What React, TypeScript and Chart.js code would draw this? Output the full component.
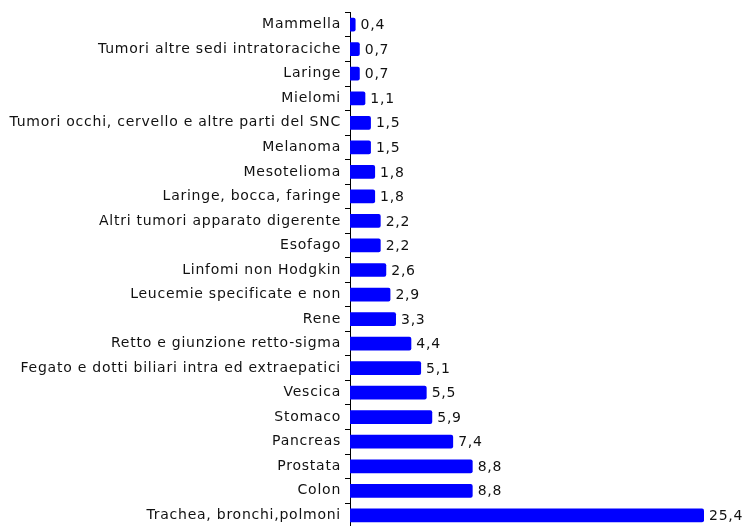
import React, { useEffect, useRef } from "react";
import { Chart, registerables } from "chart.js";

Chart.register(...registerables);

const categories = [
  "Mammella",
  "Tumori altre sedi intratoraciche",
  "Laringe",
  "Mielomi",
  "Tumori occhi, cervello e altre parti del SNC",
  "Melanoma",
  "Mesotelioma",
  "Laringe, bocca, faringe",
  "Altri tumori apparato digerente",
  "Esofago",
  "Linfomi non Hodgkin",
  "Leucemie specificate e non",
  "Rene",
  "Retto e giunzione retto-sigma",
  "Fegato e dotti biliari intra ed extraepatici",
  "Vescica",
  "Stomaco",
  "Pancreas",
  "Prostata",
  "Colon",
  "Trachea, bronchi,polmoni",
];

const values = [
  0.4, 0.7, 0.7, 1.1, 1.5, 1.5, 1.8, 1.8, 2.2, 2.2, 2.6, 2.9, 3.3, 4.4, 5.1,
  5.5, 5.9, 7.4, 8.8, 8.8, 25.4,
];

const FONT = "'DejaVu Sans', Verdana, sans-serif";
const SPACING = "0.75px";

const spacingPlugin = {
  id: "spacing",
  beforeDraw(chart: any) {
    chart.ctx.letterSpacing = SPACING;
  },
};

const valueLabels = {
  id: "valueLabels",
  afterDatasetsDraw(chart: any) {
    const ctx = chart.ctx;
    const meta = chart.getDatasetMeta(0);
    ctx.save();
    ctx.letterSpacing = SPACING;
    ctx.font = `14px ${FONT}`;
    ctx.fillStyle = "#111";
    ctx.textAlign = "left";
    ctx.textBaseline = "middle";
    meta.data.forEach((bar: any, i: number) => {
      const txt = values[i].toFixed(1).replace(".", ",");
      ctx.fillText(txt, bar.x + 5, bar.y + 1);
    });
    ctx.restore();
  },
};

export default function App() {
  const ref = useRef<HTMLCanvasElement>(null);
  useEffect(() => {
    if (!ref.current) return;
    const chart = new Chart(ref.current, {
      type: "bar",
      data: {
        labels: categories,
        datasets: [
          {
            data: values,
            backgroundColor: "#0000ff",
            borderRadius: 2,
            barPercentage: 0.56,
            categoryPercentage: 1,
          },
        ],
      },
      options: {
        indexAxis: "y",
        animation: false,
        responsive: false,
        layout: { padding: { top: 10, bottom: 10, right: 39, left: 0 } },
        plugins: {
          legend: { display: false },
          tooltip: { enabled: false },
        },
        scales: {
          x: {
            display: false,
            min: 0,
            max: 25.4,
          },
          y: {
            afterFit: (scale: any) => {
              scale.width = 350;
            },
            border: { display: true, color: "#000", width: 1 },
            grid: {
              drawOnChartArea: false,
              drawTicks: true,
              tickLength: 5,
              color: "#000",
              offset: true,
            },
            ticks: {
              color: "#111",
              padding: 4,
              autoSkip: false,
              font: { family: FONT, size: 14 },
            },
          },
        },
      },
      plugins: [spacingPlugin, valueLabels],
    });
    return () => chart.destroy();
  }, []);
  return (
    <div
      style={{
        position: "fixed",
        left: 0,
        top: 0,
        width: 743,
        height: 526,
        overflow: "hidden",
        background: "#fff",
      }}
    >
      <canvas ref={ref} width={743} height={540} style={{ display: "block" }} />
    </div>
  );
}
